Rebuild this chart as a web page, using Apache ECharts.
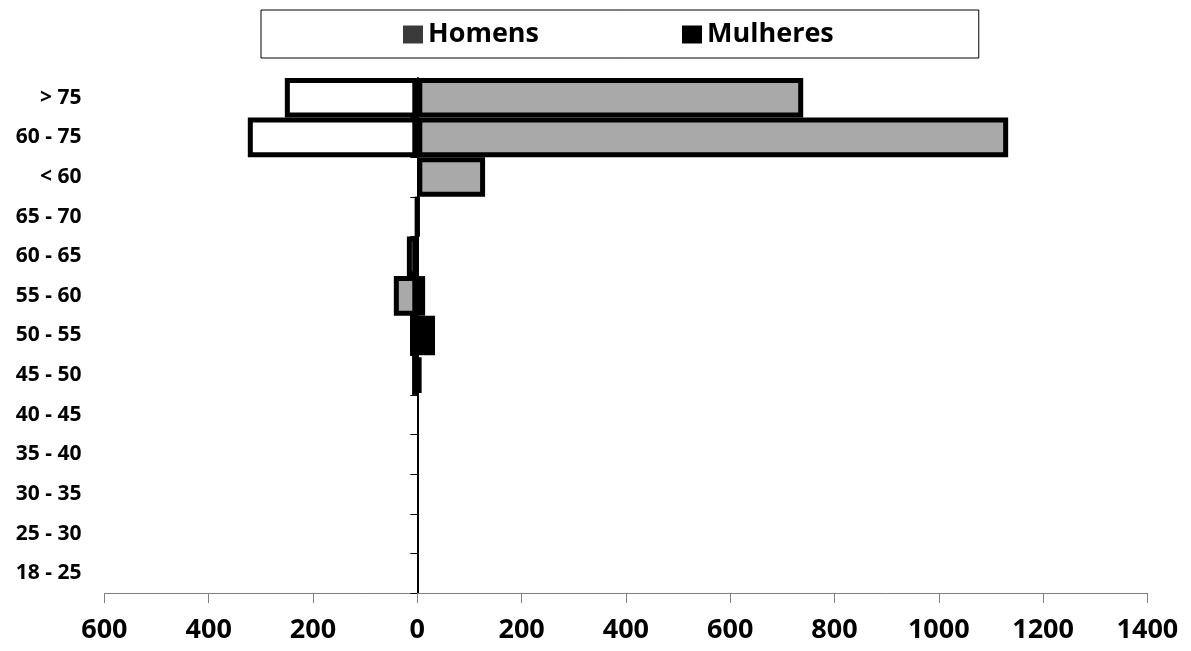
<!DOCTYPE html>
<html>
<head>
<meta charset="utf-8">
<script src="https://cdn.jsdelivr.net/npm/echarts@6/dist/echarts.min.js"></script>
<style>
html,body{margin:0;padding:0;background:#fff;}
#chart{width:1191px;height:651px;}
</style>
</head>
<body>
<div id="chart"></div>
<script>
// Categories (bottom to top)
const categories = ['18 - 25','25 - 30','30 - 35','35 - 40','40 - 45','45 - 50','50 - 55','55 - 60','60 - 65','65 - 70','< 60','60 - 75','> 75'];
// Homens values (grey bars)
const homens = [null,null,null,null,null,null,null,-45,-20,0,130,1133,740];
// Mulheres values, left side (negative)
const mulheresLeft = [null,null,null,null,null,-10,-14,null,null,0,null,-325,-254];
// Mulheres values, right side (positive)
const mulheresRight = [null,null,null,null,null,7,34,15,null,null,null,null,null];
// X-axis tick settings
const xMin = -600, xMax = 1400, xStep = 200;

const FONT = '"Open Sans", "DejaVu Sans", sans-serif';
const chart = echarts.init(document.getElementById('chart'), null, {renderer:'canvas'});

const mulheresColor = p => (p.dataIndex >= 10 ? '#ffffff' : '#000000');

chart.setOption({
  backgroundColor: '#ffffff',
  animation: false,
  legend: {
    left: 261, top: 10,
    padding: [11, 145, 10, 142],
    itemGap: 143,
    itemWidth: 20, itemHeight: 18,
    borderColor: '#000', borderWidth: 1,
    textStyle: {fontFamily: FONT, fontWeight: 'bold', fontSize: 27, color: '#000'},
    data: [
      {name: 'Homens', icon: 'rect', itemStyle: {color: '#3a3a3a', borderWidth: 0}},
      {name: 'Mulheres', icon: 'rect', itemStyle: {color: '#000', borderWidth: 0}}
    ]
  },
  grid: {left: 104.4, right: 43.6, top: 78, bottom: 58, containLabel: false},
  xAxis: {
    type: 'value', min: xMin, max: xMax, interval: xStep,
    axisLine: {show: true, onZero: false, lineStyle: {color: '#808080', width: 1}},
    axisTick: {show: true, length: 10, lineStyle: {color: '#808080', width: 1}},
    splitLine: {show: false},
    axisLabel: {
      margin: 24,
      fontFamily: FONT, fontWeight: 'bold', fontSize: 27, color: '#000',
      formatter: v => String(Math.abs(v))
    }
  },
  yAxis: [
    {
      type: 'category', data: categories, position: 'left',
      axisLine: {show: false, onZero: false},
      axisTick: {show: false},
      axisLabel: {margin: 23, fontFamily: FONT, fontWeight: 'bold', fontSize: 21, color: '#000'}
    },
    {
      type: 'category', data: categories, position: 'left',
      axisLine: {show: true, onZero: true, lineStyle: {color: '#000', width: 2}},
      axisTick: {show: true, length: 7, lineStyle: {color: '#000', width: 1}},
      axisLabel: {show: false}
    }
  ],
  series: [
    {
      name: 'Homens', type: 'bar', yAxisIndex: 0,
      data: homens,
      barCategoryGap: '0%', barGap: '-100%',
      itemStyle: {color: '#a9a9a9', borderColor: '#000', borderWidth: 5}
    },
    {
      name: 'Mulheres', type: 'bar', yAxisIndex: 0,
      data: mulheresLeft,
      barCategoryGap: '0%', barGap: '-100%',
      itemStyle: {color: mulheresColor, borderColor: '#000', borderWidth: 5}
    },
    {
      name: 'Mulheres', type: 'bar', yAxisIndex: 0,
      data: mulheresRight,
      barCategoryGap: '0%', barGap: '-100%',
      itemStyle: {color: '#000', borderColor: '#000', borderWidth: 5}
    }
  ]
});
</script>
</body>
</html>
